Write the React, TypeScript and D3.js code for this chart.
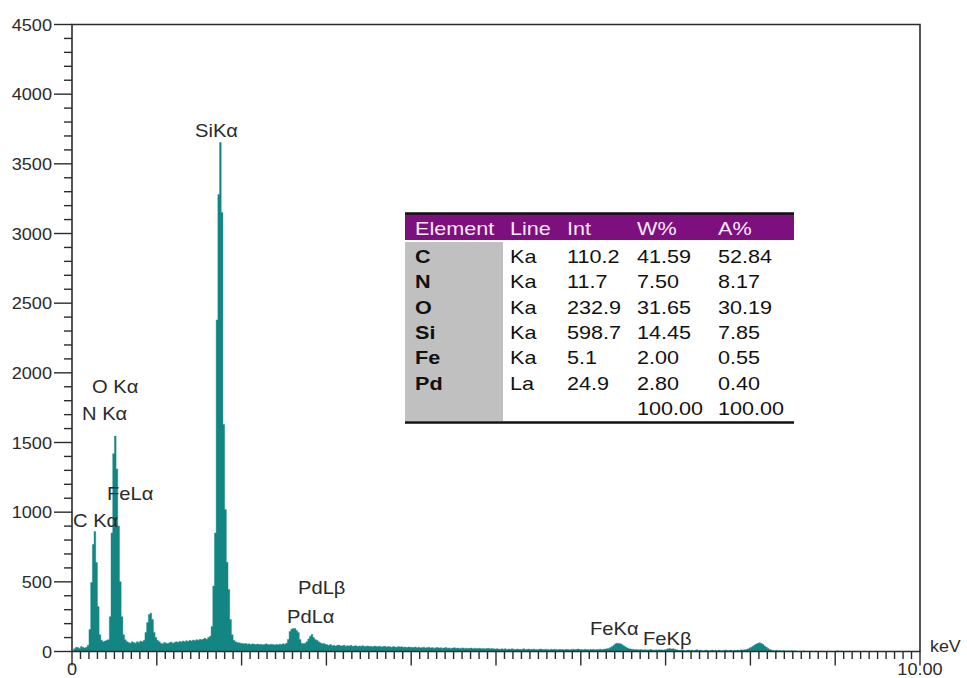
import React from 'react';
import * as d3 from 'd3';

// ---------- data ----------
const channelKeV = 0.02;
// counts per 0.02 keV channel, 0 .. 10 keV
const counts: number[] = [
  5, 20, 30, 28, 22, 35, 30, 25, 30, 45,
  158, 495, 768, 861, 639, 323, 120, 80, 70, 75,
  80, 85, 250, 850, 1420, 1546, 1310, 900, 500, 250,
  120, 85, 70, 65, 60, 70, 65, 60, 70, 65,
  75, 70, 80, 136, 208, 266, 275, 230, 136, 100,
  80, 70, 60, 55, 65, 60, 58, 62, 68, 60,
  65, 70, 66, 72, 68, 75, 70, 78, 72, 80,
  75, 82, 78, 85, 80, 88, 85, 90, 95, 88,
  100, 110, 180, 470, 850, 2380, 3280, 3654, 3150, 1630,
  1020, 640, 445, 230, 120, 80, 70, 65, 62, 60,
  58, 55, 58, 52, 55, 50, 55, 52, 50, 54,
  50, 52, 48, 50, 55, 50, 48, 52, 50, 46,
  50, 48, 52, 50, 55, 52, 60, 86, 143, 160,
  165, 165, 150, 136, 86, 60, 55, 60, 70, 90,
  110, 122, 100, 86, 80, 70, 62, 55, 58, 52,
  48, 45, 50, 42, 45, 40, 44, 46, 40, 42,
  45, 38, 42, 40, 44, 38, 40, 42, 36, 40,
  38, 42, 35, 38, 40, 36, 38, 34, 40, 36,
  35, 38, 33, 36, 38, 32, 35, 34, 30, 36,
  33, 30, 35, 32, 34, 30, 32, 28, 33, 30,
  30, 28, 32, 27, 30, 26, 29, 31, 25, 28,
  30, 26, 28, 24, 27, 29, 25, 27, 23, 26,
  28, 24, 26, 22, 25, 27, 23, 25, 22, 24,
  26, 22, 24, 21, 23, 25, 20, 23, 22, 21,
  24, 20, 22, 19, 21, 23, 19, 21, 20, 18,
  20, 18, 16, 19, 17, 20, 15, 18, 16, 19,
  17, 15, 18, 16, 14, 17, 19, 15, 16, 18,
  14, 16, 17, 15, 13, 16, 18, 14, 15, 17,
  15, 13, 16, 14, 17, 15, 12, 16, 14, 15,
  13, 16, 14, 12, 15, 17, 14, 16, 18, 15,
  15, 13, 16, 14, 12, 15, 14, 16, 13, 15,
  14, 17, 15, 16, 18, 20, 22, 28, 35, 45,
  55, 60, 58, 55, 48, 40, 32, 25, 20, 18,
  16, 14, 15, 13, 12, 14, 11, 13, 12, 10,
  12, 14, 11, 9, 12, 10, 13, 11, 10, 12,
  15, 20, 22, 18, 20, 16, 12, 10, 8, 12,
  10, 6, 9, 11, 8, 10, 5, 9, 12, 7,
  10, 8, 6, 11, 9, 5, 8, 10, 7, 9,
  6, 10, 8, 5, 9, 11, 7, 8, 10, 6,
  9, 7, 10, 8, 12, 10, 12, 14, 18, 24,
  30, 38, 46, 54, 59, 62, 58, 50, 40, 30,
  22, 15, 10, 8, 6, 9, 5, 7, 4, 8,
  5, 3, 6, 4, 7, 2, 5, 3, 0, 4,
  2, 5, 0, 3, 1, 4, 0, 2, 3, 0,
  2, 0, 4, 1, 0, 3, 0, 2, 0, 1,
  3, 6, 0, 4, 2, 0, 1, 0, 3, 0,
  0, 2, 0, 0, 1, 0, 0, 2, 0, 0,
  1, 0, 0, 0, 2, 0, 0, 0, 1, 0,
  0, 0, 1, 0, 0, 0, 0, 1, 0, 0,
  0, 0, 0, 1, 0, 0, 0, 0, 0, 0,
];

const yMajorLabels = ['0', '500', '1000', '1500', '2000', '2500', '3000', '3500', '4000', '4500'];
const xLabelStart = '0';
const xLabelEnd = '10.00';
const xUnit = 'keV';

// peak labels: text, energy (keV) and count level where the text baseline starts
const peakText = ['SiKα', 'O Kα', 'N Kα', 'FeLα', 'C Kα', 'PdLβ', 'PdLα', 'FeKα', 'FeKβ'];
const peakE = [1.45, 0.236, 0.118, 0.413, 0.012, 2.665, 2.535, 6.108, 6.733];
const peakV = [3693, 1855, 1660, 1087, 894, 413, 204, 119, 47];

// quantification table
const tableHeader = ['Element', 'Line', 'Int', 'W%', 'A%'];
const tableElement = ['C', 'N', 'O', 'Si', 'Fe', 'Pd'];
const tableLine = ['Ka', 'Ka', 'Ka', 'Ka', 'Ka', 'La'];
const tableInt = ['110.2', '11.7', '232.9', '598.7', '5.1', '24.9'];
const tableW = ['41.59', '7.50', '31.65', '14.45', '2.00', '2.80'];
const tableA = ['52.84', '8.17', '30.19', '7.85', '0.55', '0.40'];
const tableTotal = ['', '', '', '100.00', '100.00'];

// ---------- chart ----------
const W = 967;
const H = 678;
const FONT = 'Arial, "Liberation Sans", sans-serif';
const TEAL = '#138683';
const INK = '#2b2b2b';

function SText(props: {
  x: number; y: number; size: number; sx?: number; anchor?: string;
  weight?: string | number; fill?: string; children: React.ReactNode;
}) {
  const { x, y, size, sx = 1.12, anchor = 'start', weight = 'normal', fill = INK, children } = props;
  return (
    <text
      transform={`translate(${x},${y}) scale(${sx},1)`}
      fontFamily={FONT}
      fontSize={size}
      fontWeight={weight}
      textAnchor={anchor}
      fill={fill}
    >
      {children}
    </text>
  );
}

export default function App() {
  const x = d3.scaleLinear().domain([0, 10]).range([72, 920]);
  const y = d3.scaleLinear().domain([0, 4500]).range([651.5, 24.5]);

  const pts = counts.map((c, i) => ({ e: i * channelKeV, c }));
  pts.push({ e: counts.length * channelKeV, c: counts[counts.length - 1] });

  const area = d3
    .area<{ e: number; c: number }>()
    .x((d) => x(d.e))
    .y0(y(0))
    .y1((d) => y(d.c))
    .curve(d3.curveStepAfter);

  const yTicks = d3.range(0, 4501, 100);
  const xTicks = d3.range(0, 101, 1).map((v) => v / 10);

  // table geometry
  const tX0 = 405;
  const tX1 = 794;
  const colX = [415, 510, 567, 637, 718];
  const headTop = 214;
  const headBottom = 240;
  const rowBase0 = 263;
  const rowStep = 25.3;
  const grayTop = 242;
  const tableBottom = 422.5;

  return (
    <svg
      width={W}
      height={H}
      viewBox={`0 0 ${W} ${H}`}
      style={{ position: 'absolute', left: 0, top: 0, background: '#fff' }}
    >
      <rect x={0} y={0} width={W} height={H} fill="#fff" />

      {/* spectrum */}
      <path d={area(pts) || ''} fill={TEAL} stroke={TEAL} strokeWidth={0.4} />

      {/* frame */}
      <path
        d={`M${x(0)},${y(0)} V${y(4500)} H${x(10)} V${y(0)} Z`}
        fill="none"
        stroke={INK}
        strokeWidth={1.6}
      />

      {/* y ticks */}
      {yTicks.map((t) => {
        const major = t % 500 === 0;
        return (
          <line
            key={'y' + t}
            x1={x(0) - (major ? 18 : 8)}
            x2={x(0)}
            y1={y(t)}
            y2={y(t)}
            stroke={INK}
            strokeWidth={1.4}
          />
        );
      })}
      {yMajorLabels.map((lab) => (
        <SText key={'yl' + lab} x={52} y={y(+lab) + 6} size={16.5} sx={1.1} anchor="end">
          {lab}
        </SText>
      ))}

      {/* x ticks */}
      {xTicks.map((t, i) => {
        const major = i % 10 === 0;
        return (
          <line
            key={'x' + i}
            x1={x(t)}
            x2={x(t)}
            y1={y(0)}
            y2={y(0) + (major ? 14 : 7.5)}
            stroke={INK}
            strokeWidth={1.4}
          />
        );
      })}
      <SText x={x(0)} y={675} size={16.5} sx={1.1} anchor="middle">{xLabelStart}</SText>
      <SText x={x(10)} y={675} size={16.5} sx={1.1} anchor="middle">{xLabelEnd}</SText>
      <SText x={930} y={652} size={17} sx={1.05}>{xUnit}</SText>

      {/* peak labels */}
      {peakText.map((t, i) => (
        <SText key={'p' + i} x={x(peakE[i])} y={y(peakV[i])} size={18} sx={1.12}>
          {t}
        </SText>
      ))}

      {/* table */}
      <rect x={tX0} y={headTop} width={tX1 - tX0} height={headBottom - headTop} fill="#7e0f7e" />
      <rect x={tX0} y={grayTop} width={98} height={tableBottom - 1.5 - grayTop} fill="#c0c0c0" />
      <line x1={tX0} x2={tX1} y1={headTop - 0.5} y2={headTop - 0.5} stroke="#111" strokeWidth={2.5} />
      <line x1={tX0} x2={tX1} y1={tableBottom} y2={tableBottom} stroke="#111" strokeWidth={2.5} />
      {tableHeader.map((h, i) => (
        <SText key={'h' + i} x={colX[i]} y={234.5} size={18} sx={1.2} fill="#f6ecf6">
          {h}
        </SText>
      ))}
      {tableElement.map((el, r) => {
        const yy = rowBase0 + r * rowStep;
        return (
          <g key={'r' + r}>
            <SText x={colX[0]} y={yy} size={18} sx={1.2} weight="bold" fill="#111">{el}</SText>
            <SText x={colX[1]} y={yy} size={18} sx={1.2} fill="#111">{tableLine[r]}</SText>
            <SText x={colX[2]} y={yy} size={18} sx={1.2} fill="#111">{tableInt[r]}</SText>
            <SText x={colX[3]} y={yy} size={18} sx={1.2} fill="#111">{tableW[r]}</SText>
            <SText x={colX[4]} y={yy} size={18} sx={1.2} fill="#111">{tableA[r]}</SText>
          </g>
        );
      })}
      {tableTotal.map((v, i) =>
        v ? (
          <SText key={'t' + i} x={colX[i]} y={rowBase0 + 6 * rowStep} size={18} sx={1.2} fill="#111">
            {v}
          </SText>
        ) : null
      )}
    </svg>
  );
}
